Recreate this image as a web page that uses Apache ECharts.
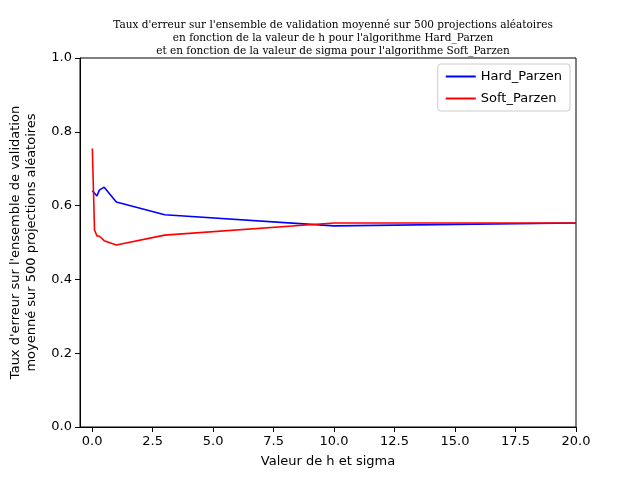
<!DOCTYPE html>
<html><head><meta charset="utf-8">
<script src="https://cdn.jsdelivr.net/npm/echarts@6/dist/echarts.min.js"></script>
</head><body style="margin:0">
<div id="main" style="width:640px;height:480px"></div>
<script>
var hardX = [0.01, 0.2, 0.3, 0.5, 1, 3, 10, 20];
var hardY = [0.64, 0.626, 0.642, 0.65, 0.61, 0.575, 0.545, 0.553];
var softX = [0.01, 0.1, 0.2, 0.3, 0.5, 1, 3, 10, 20];
var softY = [0.755, 0.534, 0.518, 0.517, 0.505, 0.493, 0.52, 0.553, 0.553];
var xTicks = [0, 2.5, 5, 7.5, 10, 12.5, 15, 17.5, 20];

function pairs(xs, ys) { return xs.map(function (x, i) { return [x, ys[i]]; }); }

var myChart = echarts.init(document.getElementById('main'));
myChart.setOption({
    backgroundColor: '#FFF',
    animation: false,
    title: {
        text: "Taux d'erreur sur l'ensemble de validation moyenné sur 500 projections aléatoires\nen fonction de la valeur de h pour l'algorithme Hard_Parzen\net en fonction de la valeur de sigma pour l'algorithme Soft_Parzen",
        left: 328, top: 14, textAlign: 'center',
        textStyle: { fontFamily: 'DejaVu Serif', fontSize: 10.5, fontWeight: 'normal', lineHeight: 13, color: '#000' }
    },
    legend: {
        right: 70, top: 64, orient: 'vertical', itemWidth: 30, itemHeight: 2, itemGap: 9,
        borderColor: '#ccc', borderWidth: 1, borderRadius: 3, padding: [6, 8],
        textStyle: { fontFamily: 'DejaVu Sans', fontSize: 13, color: '#000' },
        icon: 'rect', data: ['Hard_Parzen', 'Soft_Parzen']
    },
    grid: { left: 80, right: 64, top: 58, bottom: 53, show: true, borderColor: '#000', borderWidth: 1 },
    xAxis: {
        type: 'value', min: -0.5, max: 20,
        name: 'Valeur de h et sigma', nameLocation: 'middle', nameGap: 28,
        nameTextStyle: { fontFamily: 'DejaVu Sans', fontSize: 13, color: '#000' },
        axisLine: { onZero: false, lineStyle: { color: '#000' } },
        splitLine: { show: false },
        axisLabel: {
            color: '#000', fontFamily: 'DejaVu Sans', fontSize: 13,
            customValues: xTicks,
            formatter: function (v) { return v.toFixed(1); }
        },
        axisTick: { customValues: xTicks, lineStyle: { color: '#000' } }
    },
    yAxis: {
        type: 'value', min: 0, max: 1, interval: 0.2,
        name: "Taux d'erreur sur l'ensemble de validation\nmoyenné sur 500 projections aléatoires",
        nameLocation: 'middle', nameGap: 40,
        nameTextStyle: { fontFamily: 'DejaVu Sans', fontSize: 13, color: '#000', lineHeight: 16 },
        axisLine: { show: true, onZero: false, lineStyle: { color: '#000' } },
        axisTick: { show: true, lineStyle: { color: '#000' } },
        splitLine: { show: false },
        axisLabel: { color: '#000', fontFamily: 'DejaVu Sans', fontSize: 13, formatter: function (v) { return v.toFixed(1); } }
    },
    series: [
        { name: 'Hard_Parzen', type: 'line', data: pairs(hardX, hardY), showSymbol: false, color: '#0000ff', lineStyle: { width: 1.6 } },
        { name: 'Soft_Parzen', type: 'line', data: pairs(softX, softY), showSymbol: false, color: '#ff0000', lineStyle: { width: 1.6 } }
    ]
});
</script>
</body></html>
